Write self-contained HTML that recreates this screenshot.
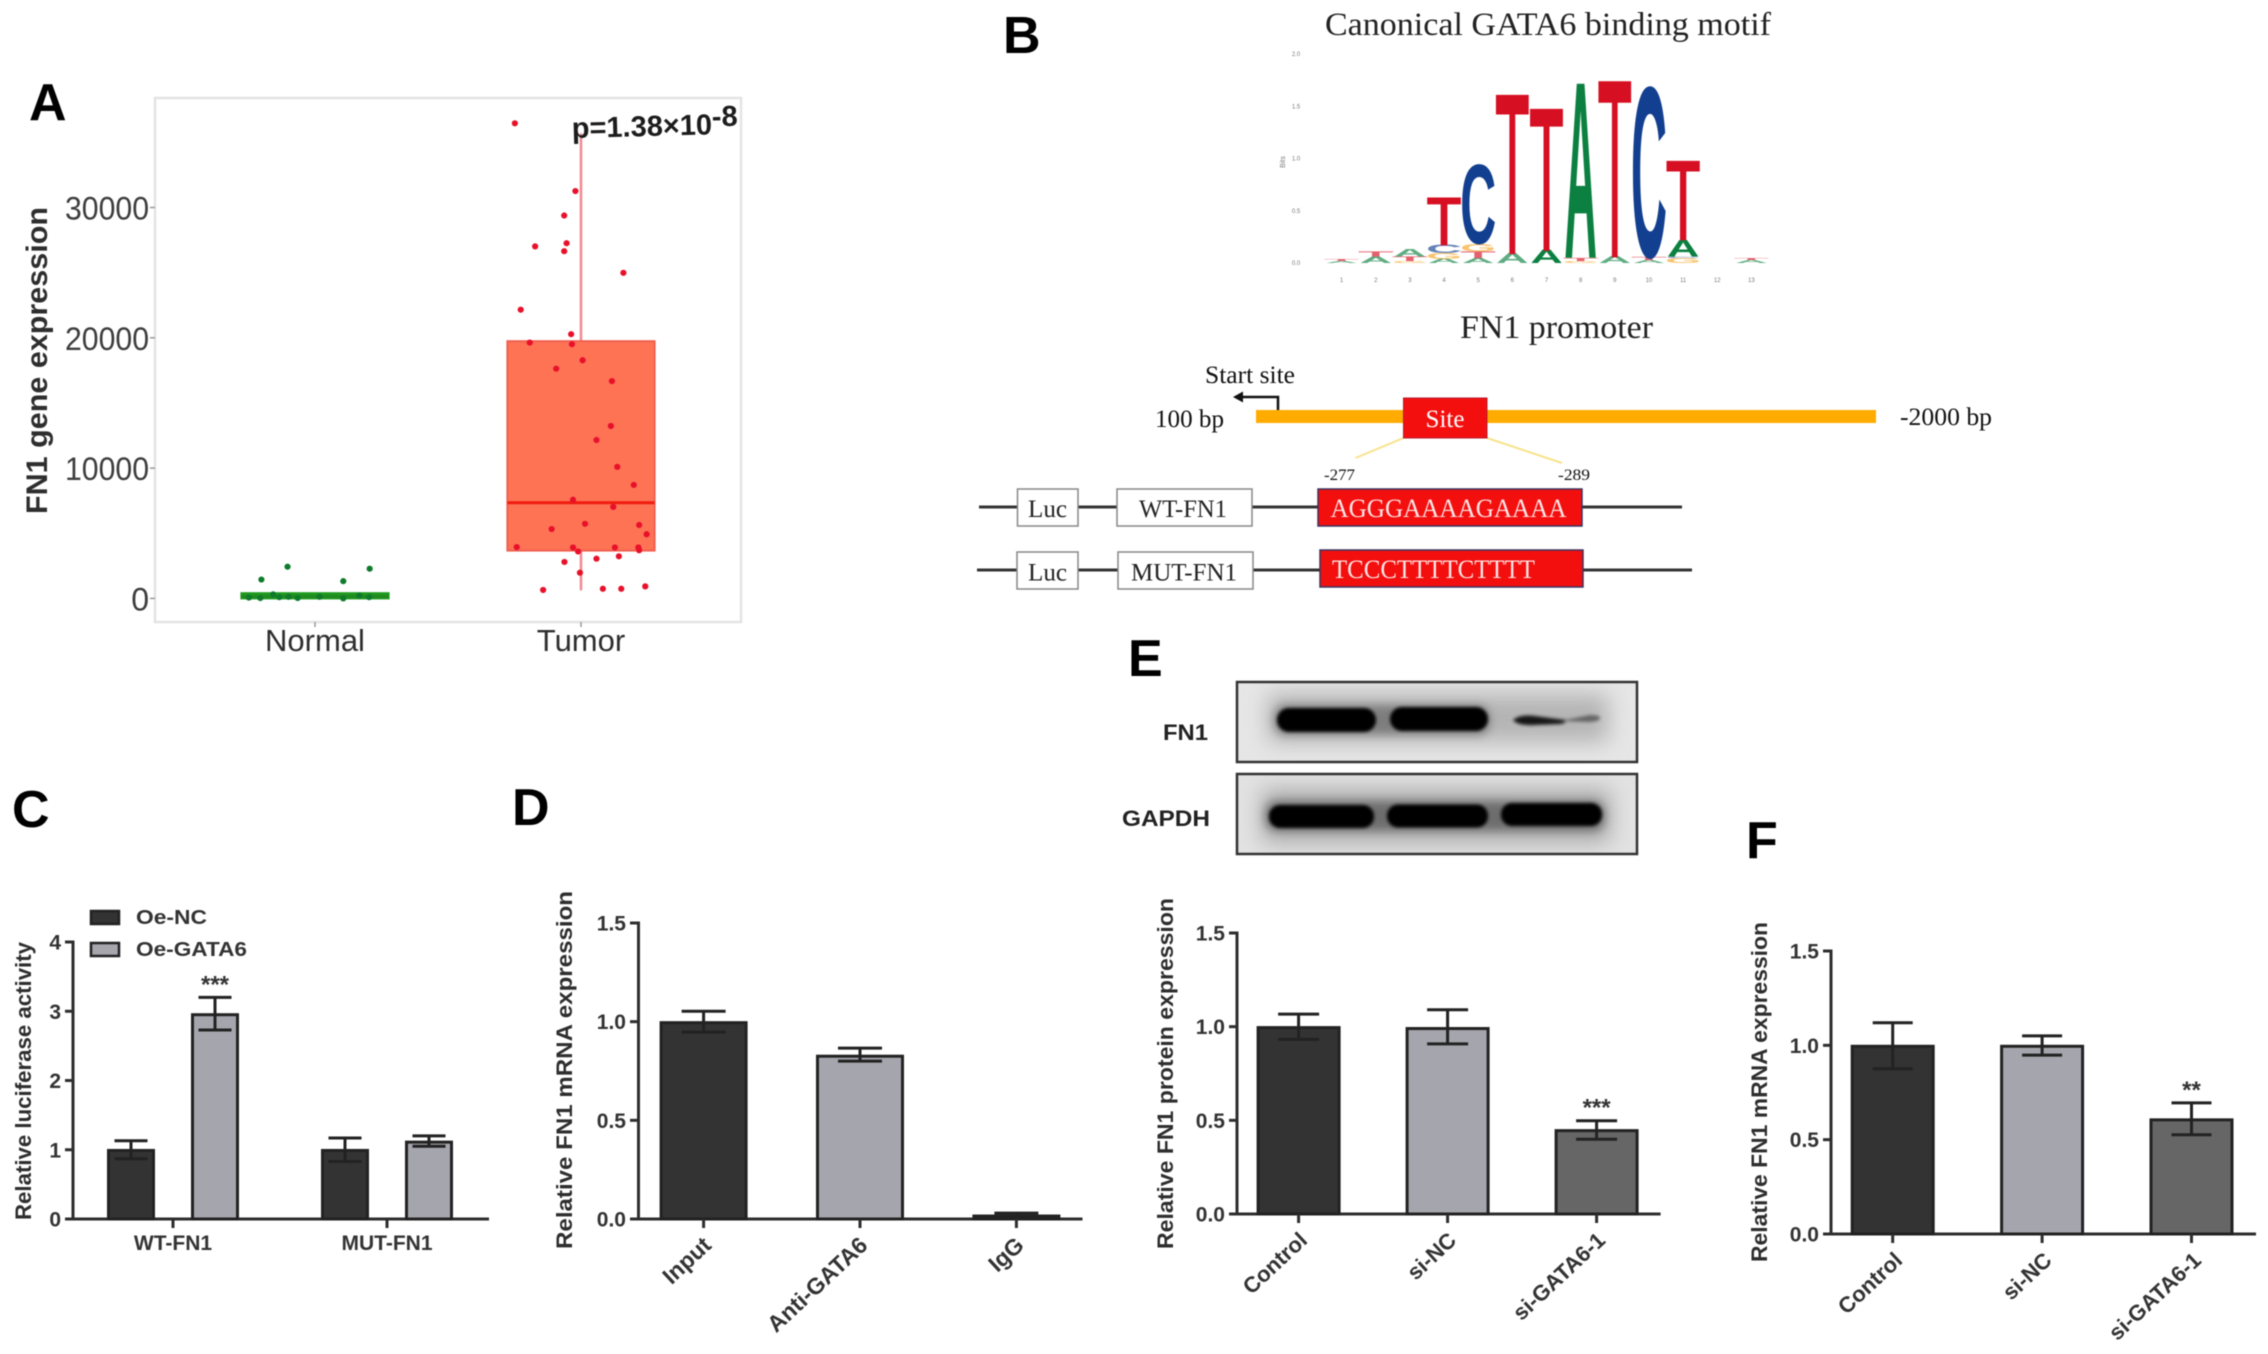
<!DOCTYPE html>
<html lang="en">
<head>
<meta charset="utf-8">
<title>FN1 GATA6 figure</title>
<style>
html,body{margin:0;padding:0;background:#fff;width:2268px;height:1354px;overflow:hidden}
svg{display:block;filter:blur(0.6px)}
text{font-family:"Liberation Sans",Arial,sans-serif}
.serif text,text.serif{font-family:"Liberation Serif","Times New Roman",serif}
.panel-letter{font-size:52px;font-weight:bold;fill:#000}
.ylab{font-weight:bold;fill:#2e2e2e}
</style>
</head>
<body>
<svg id="figure" xmlns="http://www.w3.org/2000/svg" width="2268" height="1354" viewBox="0 0 2268 1354">
<defs>
<filter id="b2" x="-20%" y="-100%" width="140%" height="300%"><feGaussianBlur stdDeviation="1.6"/></filter>
<filter id="b5" x="-20%" y="-100%" width="140%" height="300%"><feGaussianBlur stdDeviation="4.5"/></filter>
<filter id="b9" x="-20%" y="-150%" width="140%" height="400%"><feGaussianBlur stdDeviation="11"/></filter>
<clipPath id="clip-blot-1"><rect x="1237" y="682" width="400" height="80"/></clipPath>
<clipPath id="clip-blot-2"><rect x="1237" y="774" width="400" height="80"/></clipPath>
</defs>
<rect width="2268" height="1354" fill="#fff"/>

<text class="panel-letter" x="29" y="120">A</text>
<text class="panel-letter" x="1003" y="53">B</text>
<text class="panel-letter" x="12" y="827">C</text>
<text class="panel-letter" x="512" y="825">D</text>
<text class="panel-letter" x="1128" y="676">E</text>
<text class="panel-letter" x="1746" y="858">F</text>

<g id="panel-a">
<rect x="155" y="98" width="586" height="524" fill="#fff" stroke="#e4e4e4" stroke-width="2.5"/>
<text class="ylab" transform="translate(47 360.5) rotate(-90)" text-anchor="middle" font-size="30" textLength="307" lengthAdjust="spacingAndGlyphs">FN1 gene expression</text>
</g>

<g id="panel-motif">
<text class="serif" x="1325" y="35" font-size="33" fill="#222" textLength="446" lengthAdjust="spacingAndGlyphs">Canonical GATA6 binding motif</text>
<text class="serif" x="1460" y="338" font-size="33" fill="#222" textLength="193" lengthAdjust="spacingAndGlyphs">FN1 promoter</text>
<text transform="translate(1285 162) rotate(-90)" text-anchor="middle" font-size="7" fill="#777">Bits</text>
</g>

<g id="panel-promoter" class="serif">
<rect x="1256" y="410" width="620" height="13" fill="#ffab00"/>
<text x="1205" y="383" font-size="25" fill="#111" textLength="90" lengthAdjust="spacingAndGlyphs">Start site</text>
<path d="M1278 410V397H1240" fill="none" stroke="#111" stroke-width="2.5"/>
<path d="M1233 397L1243 391.5V402.5Z" fill="#111"/>
<text x="1155" y="427" font-size="25" fill="#111" textLength="69" lengthAdjust="spacingAndGlyphs">100 bp</text>
<text x="1900" y="425" font-size="25" fill="#111" textLength="92" lengthAdjust="spacingAndGlyphs">-2000 bp</text>
<line x1="1403.5" y1="438" x2="1355.5" y2="458" stroke="#f7e38c" stroke-width="2"/>
<line x1="1487" y1="438" x2="1562" y2="463" stroke="#f7e38c" stroke-width="2"/>
<rect x="1403.5" y="398" width="83.5" height="40" fill="#f40f0f" stroke="#b51a2a" stroke-width="1"/>
<text x="1445" y="427" font-size="25" fill="#fff" text-anchor="middle">Site</text>
<text x="1324" y="480" font-size="16" fill="#111" textLength="31" lengthAdjust="spacingAndGlyphs">-277</text>
<text x="1558" y="480" font-size="16" fill="#111" textLength="32" lengthAdjust="spacingAndGlyphs">-289</text>

<line x1="979" y1="507" x2="1682" y2="507" stroke="#333" stroke-width="3"/>
<rect x="1017.5" y="489" width="60.5" height="37" fill="#fff" stroke="#888" stroke-width="1.5"/>
<text x="1047.5" y="517" font-size="25" fill="#222" text-anchor="middle" textLength="39" lengthAdjust="spacingAndGlyphs">Luc</text>
<rect x="1117" y="489" width="135" height="37" fill="#fff" stroke="#888" stroke-width="1.5"/>
<text x="1183" y="517" font-size="25" fill="#222" text-anchor="middle" textLength="88" lengthAdjust="spacingAndGlyphs">WT-FN1</text>
<rect x="1318" y="489" width="264" height="37" fill="#f40f0f" stroke="#3a3560" stroke-width="1.5"/>
<text x="1330.5" y="517" font-size="26" fill="#ffe6e6" textLength="236" lengthAdjust="spacingAndGlyphs">AGGGAAAAGAAAA</text>

<line x1="977" y1="570" x2="1692" y2="570" stroke="#333" stroke-width="3"/>
<rect x="1017" y="552" width="61" height="37" fill="#fff" stroke="#888" stroke-width="1.5"/>
<text x="1047.5" y="580.5" font-size="25" fill="#222" text-anchor="middle" textLength="39" lengthAdjust="spacingAndGlyphs">Luc</text>
<rect x="1118" y="552" width="135" height="37" fill="#fff" stroke="#888" stroke-width="1.5"/>
<text x="1184" y="580.5" font-size="25" fill="#222" text-anchor="middle" textLength="106" lengthAdjust="spacingAndGlyphs">MUT-FN1</text>
<rect x="1320" y="550" width="263" height="37" fill="#f40f0f" stroke="#3a3560" stroke-width="1.5"/>
<text x="1332" y="578" font-size="26" fill="#ffe6e6" textLength="203" lengthAdjust="spacingAndGlyphs">TCCCTTTTCTTTT</text>
</g>

<g id="panel-c">
<text class="ylab" transform="translate(31 1081) rotate(-90)" text-anchor="middle" font-size="22" textLength="278" lengthAdjust="spacingAndGlyphs">Relative luciferase activity</text>
<rect x="91" y="911" width="28" height="13" fill="#333" stroke="#222" stroke-width="2.5"/>
<text x="136" y="924" font-size="20" font-weight="bold" fill="#333" textLength="71" lengthAdjust="spacingAndGlyphs">Oe-NC</text>
<rect x="91" y="943" width="28" height="13" fill="#a6a6ac" stroke="#222" stroke-width="2.5"/>
<text x="136" y="956" font-size="20" font-weight="bold" fill="#333" textLength="111" lengthAdjust="spacingAndGlyphs">Oe-GATA6</text>
</g>

<g id="panel-d">
<text class="ylab" transform="translate(572 1070) rotate(-90)" text-anchor="middle" font-size="22" textLength="358" lengthAdjust="spacingAndGlyphs">Relative FN1 mRNA expression</text>
</g>

<g id="panel-blot">
<text x="1163" y="740" font-size="22" font-weight="bold" fill="#222" textLength="45" lengthAdjust="spacingAndGlyphs">FN1</text>
<text x="1122" y="826" font-size="22" font-weight="bold" fill="#222" textLength="88" lengthAdjust="spacingAndGlyphs">GAPDH</text>

<rect x="1237" y="682" width="400" height="80" fill="#e6e6e6"/>
<g clip-path="url(#clip-blot-1)">
<rect x="1268" y="694" width="340" height="48" fill="#b4b4b4" filter="url(#b9)"/>
<rect x="1274" y="705" width="216" height="30" rx="12" fill="#666" opacity="0.7" filter="url(#b5)"/>
<rect x="1277" y="708" width="99" height="24" rx="12" fill="#050505" filter="url(#b2)"/>
<rect x="1390" y="707" width="98" height="24" rx="12" fill="#050505" filter="url(#b2)"/>
<path d="M1513 720Q1520 714 1535 716L1565 720Q1567 723 1560 724L1535 725Q1518 726 1513 720Z" fill="#161616" filter="url(#b2)"/>
<path d="M1560 721L1590 715Q1600 715 1600 718Q1600 721 1590 722Z" fill="#666" filter="url(#b2)"/>
</g>
<rect x="1237" y="682" width="400" height="80" fill="none" stroke="#333" stroke-width="2.5"/>

<rect x="1237" y="774" width="400" height="80" fill="#e2e2e2"/>
<g clip-path="url(#clip-blot-2)">
<rect x="1262" y="790" width="348" height="52" fill="#a8a8a8" filter="url(#b9)"/>
<rect x="1265" y="801" width="340" height="30" rx="12" fill="#555" opacity="0.7" filter="url(#b5)"/>
<rect x="1269" y="805" width="105" height="23" rx="11" fill="#030303" filter="url(#b2)"/>
<rect x="1387" y="804.5" width="101" height="23" rx="11" fill="#030303" filter="url(#b2)"/>
<rect x="1501" y="803" width="101" height="23" rx="11" fill="#030303" filter="url(#b2)"/>
</g>
<rect x="1237" y="774" width="400" height="80" fill="none" stroke="#333" stroke-width="2.5"/>
</g>

<g id="panel-e">
<text class="ylab" transform="translate(1173 1073.5) rotate(-90)" text-anchor="middle" font-size="22" textLength="351" lengthAdjust="spacingAndGlyphs">Relative FN1 protein expression</text>
</g>

<g id="panel-f">
<text class="ylab" transform="translate(1767 1092) rotate(-90)" text-anchor="middle" font-size="22" textLength="340" lengthAdjust="spacingAndGlyphs">Relative FN1 mRNA expression</text>
</g>
</svg>

<script>
/* ---------- Panel A data ---------- */
const aCategories = ['Normal', 'Tumor'];
const aTicks = [0, 10000, 20000, 30000];
const aTickLabels = ['0', '10000', '20000', '30000'];
const aNormalValues = [1446, 2431, 2277, 1323, 62, 31, 308, 92, 123, 31, 123, 0, 215, 92];
const aNormalJitter = [-0.201, -0.103, 0.205, 0.106, -0.248, -0.205, -0.157, -0.134, -0.099, -0.065, 0.017, 0.106, 0.166, 0.203];
const aTumorValues = [36462, 31262, 29385, 27262, 27016, 26647, 24985, 22154, 20277, 19631, 19508, 18277, 17631, 16677, 13231, 12154, 10093, 8708, 7569, 7015, 5723, 5323, 5631, 4923, 3938, 3908, 3908, 3908, 3692, 3600, 3231, 3046, 2800, 1969, 646, 738, 738, 923];
const aTumorJitter = [-0.248, -0.021, -0.063, -0.054, -0.172, -0.063, 0.159, -0.226, -0.037, -0.192, -0.034, 0.006, -0.093, 0.116, 0.112, 0.058, 0.136, 0.198, -0.030, 0.121, 0.015, -0.110, 0.218, 0.246, -0.241, -0.030, 0.127, 0.215, 0.218, -0.011, 0.142, 0.058, -0.062, -0.004, -0.142, 0.082, 0.151, 0.241];
const aNormalBox = [0, 0, 150, 400, 400];
const aTumorBox = [620, 3670, 7340, 19740, 35700];
const aPValue = 'p=1.38×10';
const aPExponent = '-8';

/* ---------- Motif data: stacks listed bottom to top ---------- */
const motifPositions = [1, 2, 3, 4, 5, 6, 7, 8, 9, 10, 11, 12, 13];
const motifLetters = [
  ['A', 'T'], ['A', 'T'], ['G', 'T', 'A'], ['A', 'G', 'C', 'T'], ['A', 'T', 'G', 'C'],
  ['A', 'T'], ['A', 'T'], ['G', 'T', 'A'], ['A', 'T'], ['A', 'T', 'C'], ['G', 'C', 'A', 'T'], [], ['A', 'T']
];
const motifBits = [
  [0.02, 0.02], [0.06, 0.05], [0.02, 0.04, 0.07], [0.04, 0.057, 0.08, 0.44], [0.05, 0.06, 0.075, 0.745],
  [0.095, 1.503], [0.127, 1.337], [0.02, 0.03, 1.665], [0.064, 1.665], [0.03, 0.03, 1.608], [0.05, 0.014, 0.16, 0.742], [], [0.03, 0.02]
];
const motifTicks = [0, 0.5, 1, 1.5, 2];
const motifTickLabels = ['0.0', '0.5', '1.0', '1.5', '2.0'];

/* ---------- Panel C data ---------- */
const cCategories = ['WT-FN1', 'MUT-FN1'];
const cTicks = [0, 1, 2, 3, 4];
const cTickLabels = ['0', '1', '2', '3', '4'];
const cNcValues = [0.99, 0.99];
const cNcUpper = [1.13, 1.17];
const cNcLower = [0.87, 0.83];
const cGataValues = [2.95, 1.11];
const cGataUpper = [3.2, 1.2];
const cGataLower = [2.73, 1.05];
const cGataStars = ['***', ''];

/* ---------- Panel D data ---------- */
const dCategories = ['Input', 'Anti-GATA6', 'IgG'];
const dTicks = [0, 0.5, 1, 1.5];
const dTickLabels = ['0.0', '0.5', '1.0', '1.5'];
const dValues = [0.995, 0.825, 0.015];
const dUpper = [1.053, 0.866, 0.03];
const dLower = [0.947, 0.80, 0.0];
const dStars = ['', '', ''];

/* ---------- Panel E data ---------- */
const eCategories = ['Control', 'si-NC', 'si-GATA6-1'];
const eTicks = [0, 0.5, 1, 1.5];
const eTickLabels = ['0.0', '0.5', '1.0', '1.5'];
const eValues = [0.995, 0.99, 0.445];
const eUpper = [1.067, 1.09, 0.498];
const eLower = [0.932, 0.908, 0.399];
const eStars = ['', '', '***'];

/* ---------- Panel F data ---------- */
const fCategories = ['Control', 'si-NC', 'si-GATA6-1'];
const fTicks = [0, 0.5, 1, 1.5];
const fTickLabels = ['0.0', '0.5', '1.0', '1.5'];
const fValues = [0.995, 0.995, 0.605];
const fUpper = [1.12, 1.05, 0.695];
const fLower = [0.876, 0.948, 0.526];
const fStars = ['', '', '**'];

const NS = 'http://www.w3.org/2000/svg';
function mk(parent, tag, attrs, txt) {
  const node = document.createElementNS(NS, tag);
  for (const k in attrs) node.setAttribute(k, attrs[k]);
  if (txt !== undefined) node.textContent = txt;
  parent.appendChild(node);
  return node;
}
function linear(d0, r0, d1, r1) {
  return function (v) { return r0 + (v - d0) * (r1 - r0) / (d1 - d0); };
}

/* ---------- Draw panel A ---------- */
(function () {
  const g = document.getElementById('panel-a');
  const yA = linear(0, 598.4, 30000, 207.5);
  const xA = linear(0, 315, 1, 581);
  const jitterScale = 266.7;
  const boxHalf = 73.6;
  const fills = ['#1f9a1f', '#ff7355'];
  const edges = ['#1f9a1f', '#f0604f'];
  const medians = ['#1f8a1f', '#f01c10'];
  const whiskers = ['#1f9a1f', '#f08a90'];
  const dots = ['#0f7a2c', '#e8102a'];
  const boxes = [aNormalBox, aTumorBox];
  const vals = [aNormalValues, aTumorValues];
  const jit = [aNormalJitter, aTumorJitter];

  aTicks.forEach(function (t, i) {
    const tick = mk(g, 'line', { x1: 150, x2: 155, y1: yA(t), y2: yA(t), stroke: '#999', 'stroke-width': 1.5 });
    
    
    const lab = mk(g, 'text', { x: 149, y: yA(t) + 12, 'text-anchor': 'end', 'font-size': 32, fill: '#3d3d3d' }, aTickLabels[i]);
    if (aTickLabels[i].length > 1) { lab.setAttribute('textLength', 84); lab.setAttribute('lengthAdjust', 'spacingAndGlyphs'); }
    
    
  });

  aCategories.forEach(function (c, i) {
    const tick = mk(g, 'line', { x1: xA(i), x2: xA(i), y1: 622, y2: 627, stroke: '#999', 'stroke-width': 1.5 });
    
    
    const lab = mk(g, 'text', { x: xA(i), y: 651, 'text-anchor': 'middle', 'font-size': 31, fill: '#2e2e2e' }, c);
    
    

    const b = boxes[i];
    const whisk = mk(g, 'line', { x1: xA(i), x2: xA(i), y1: yA(b[4]), y2: yA(b[0]), stroke: whiskers[i], 'stroke-width': 2.5 });
    
    
    const box = mk(g, 'rect', { x: xA(i) - boxHalf, y: yA(b[3]), width: 2 * boxHalf, height: yA(b[1]) - yA(b[3]), fill: fills[i], stroke: edges[i], 'stroke-width': 2 });
    
    
    const med = mk(g, 'line', { x1: xA(i) - boxHalf, x2: xA(i) + boxHalf, y1: yA(b[2]), y2: yA(b[2]), stroke: medians[i], 'stroke-width': 3 });
    
    

    vals[i].forEach(function (v, k) {
      const dot = mk(g, 'circle', { cx: xA(i) + jit[i][k] * jitterScale, cy: yA(v), r: 3.1, fill: dots[i] });
      
      
    });
  });

  const p = mk(g, 'text', { transform: 'translate(572 138) rotate(-1.5)', 'font-size': 29, 'font-weight': 'bold', fill: '#1c1c1c' }, aPValue);
  
  
  const ex = mk(p, 'tspan', { dy: -8, 'font-size': 29 }, aPExponent);
  
  
})();

/* ---------- Draw motif logo ---------- */
(function () {
  const g = document.getElementById('panel-motif');
  const xM = linear(1, 1341.6, 13, 1751.4);
  const yM = linear(0, 263, 2, 54);
  const colours = { A: '#0b8040', C: '#123f8f', G: '#f5a623', T: '#d60f22' };
  const inkWidth = { A: 72, C: 65, G: 70, T: 57 };
  motifTicks.forEach(function (t, i) {
    const lab = mk(g, 'text', { x: 1296, y: yM(t) + 2, 'text-anchor': 'middle', 'font-size': 6, fill: '#777' }, motifTickLabels[i]);
    
    
  });
  motifPositions.forEach(function (pos, i) {
    const lab = mk(g, 'text', { x: xM(pos), y: 282, 'text-anchor': 'middle', 'font-size': 6, fill: '#777' }, String(pos));
    
    
    let cum = 0;
    motifLetters[i].forEach(function (letter, k) {
      const h = motifBits[i][k];
      const base = yM(cum);
      const sy = (base - yM(cum + h)) / 68.8;
      const sx = 32.5 / inkWidth[letter];
      const thin = letter === 'T';
      const glyph = mk(g, 'text', {
        transform: 'translate(' + xM(pos) + ' ' + base + ') scale(' + sx + ' ' + sy + ')',
        'text-anchor': 'middle', 'font-size': 100, 'font-weight': thin ? 'normal' : 'bold', fill: colours[letter]
      }, letter);
      if (thin) {
        glyph.setAttribute('stroke', colours[letter]);
        glyph.setAttribute('stroke-width', '1.6');
        glyph.setAttribute('vector-effect', 'non-scaling-stroke');
      }
      if (h < 0.12) glyph.setAttribute('opacity', '0.65');
      
      
      cum += h;
    });
  });
})();

/* ---------- Shared bar chart pieces ---------- */
function drawAxes(g, yOf, axisX, xLeft, xRight, ticks, labels, labelSize) {
  const yAxis = mk(g, 'line', { x1: axisX, x2: axisX, y1: yOf(ticks[ticks.length - 1]) - 1.5, y2: yOf(0) + 1.5, stroke: '#2e2e2e', 'stroke-width': 3 });
  
  
  const xAxis = mk(g, 'line', { x1: xLeft, x2: xRight, y1: yOf(0), y2: yOf(0), stroke: '#2e2e2e', 'stroke-width': 3 });
  
  
  ticks.forEach(function (t, i) {
    const tick = mk(g, 'line', { x1: xLeft, x2: axisX, y1: yOf(t), y2: yOf(t), stroke: '#2e2e2e', 'stroke-width': 3 });
    
    
    const lab = mk(g, 'text', { x: xLeft - 4, y: yOf(t) + labelSize * 0.36, 'text-anchor': 'end', 'font-size': labelSize, 'font-weight': 'bold', fill: '#333' }, labels[i]);
    
    
  });
}
function drawBar(g, cx, width, capWidth, yOf, value, upper, lower, fill, star) {
  const bar = mk(g, 'rect', { x: cx - width / 2, y: yOf(value), width: width, height: Math.max(yOf(0) - yOf(value), 0.5), fill: fill, stroke: '#222', 'stroke-width': 3 });
  
  
  const stem = mk(g, 'line', { x1: cx, x2: cx, y1: yOf(upper), y2: yOf(lower), stroke: '#222', 'stroke-width': 3 });
  
  
  const capU = mk(g, 'line', { x1: cx - capWidth / 2, x2: cx + capWidth / 2, y1: yOf(upper), y2: yOf(upper), stroke: '#222', 'stroke-width': 3 });
  
  
  const capL = mk(g, 'line', { x1: cx - capWidth / 2, x2: cx + capWidth / 2, y1: yOf(lower), y2: yOf(lower), stroke: '#222', 'stroke-width': 3 });
  
  
  if (star) {
    const s = mk(g, 'text', { x: cx, y: yOf(upper) - 5, 'text-anchor': 'middle', 'font-size': 24, 'font-weight': 'bold', fill: '#333' }, star);
    
    
  }
}
function drawSimpleBars(id, cfg, cats, vals, ups, lows, stars, ticks, labels) {
  const g = document.getElementById(id);
  const yOf = linear(0, cfg.y0, ticks[ticks.length - 1], cfg.yTop);
  const xOf = linear(0, cfg.x0, 1, cfg.x1);
  drawAxes(g, yOf, cfg.axisX, cfg.xLeft, cfg.xRight, ticks, labels, 21);
  const fillSeq = ['#333333', '#a5a5ad', '#666666'];
  cats.forEach(function (c, i) {
    drawBar(g, xOf(i), cfg.barW, cfg.capW, yOf, vals[i], ups[i], lows[i], fillSeq[i], stars[i]);
    const tick = mk(g, 'line', { x1: xOf(i), x2: xOf(i), y1: cfg.y0, y2: cfg.y0 + 9, stroke: '#2e2e2e', 'stroke-width': 3 });
    
    
    const ax = xOf(i) + cfg.labelDx, ay = cfg.y0 + 28;
    const lab = mk(g, 'text', { transform: 'translate(' + ax + ' ' + ay + ') rotate(-43)', 'text-anchor': 'end', 'font-size': cfg.labelSize, 'font-weight': 'bold', fill: '#333' }, c);
    
    
  });
}

/* ---------- Draw panel C ---------- */
(function () {
  const g = document.getElementById('panel-c');
  const yC = linear(0, 1219, 4, 942);
  const xC = linear(0, 173, 1, 387);
  const offset = 42;
  drawAxes(g, yC, 73, 65, 489, cTicks, cTickLabels, 21);
  cCategories.forEach(function (c, i) {
    drawBar(g, xC(i) - offset, 45, 33, yC, cNcValues[i], cNcUpper[i], cNcLower[i], '#333333', '');
    drawBar(g, xC(i) + offset, 45, 33, yC, cGataValues[i], cGataUpper[i], cGataLower[i], '#a5a5ad', cGataStars[i]);
    const tick = mk(g, 'line', { x1: xC(i), x2: xC(i), y1: 1219, y2: 1228, stroke: '#2e2e2e', 'stroke-width': 3 });
    
    
    const lab = mk(g, 'text', { x: xC(i), y: 1250, 'text-anchor': 'middle', 'font-size': 21, 'font-weight': 'bold', fill: '#333' }, c);
    
    
  });
})();

/* ---------- Draw panels D, E, F ---------- */
drawSimpleBars('panel-d',
  { y0: 1219, yTop: 923, x0: 703.6, x1: 860, axisX: 638.5, xLeft: 630, xRight: 1082.5, barW: 85, capW: 44, labelDx: 9, labelSize: 23 },
  dCategories, dValues, dUpper, dLower, dStars, dTicks, dTickLabels);
drawSimpleBars('panel-e',
  { y0: 1214, yTop: 933, x0: 1298.6, x1: 1447.6, axisX: 1237, xLeft: 1229, xRight: 1660.6, barW: 81, capW: 41, labelDx: 10, labelSize: 22 },
  eCategories, eValues, eUpper, eLower, eStars, eTicks, eTickLabels);
drawSimpleBars('panel-f',
  { y0: 1234, yTop: 951, x0: 1892.7, x1: 2042.1, axisX: 1831, xLeft: 1823, xRight: 2256, barW: 81, capW: 40, labelDx: 11, labelSize: 22 },
  fCategories, fValues, fUpper, fLower, fStars, fTicks, fTickLabels);
</script>
</body>
</html>
